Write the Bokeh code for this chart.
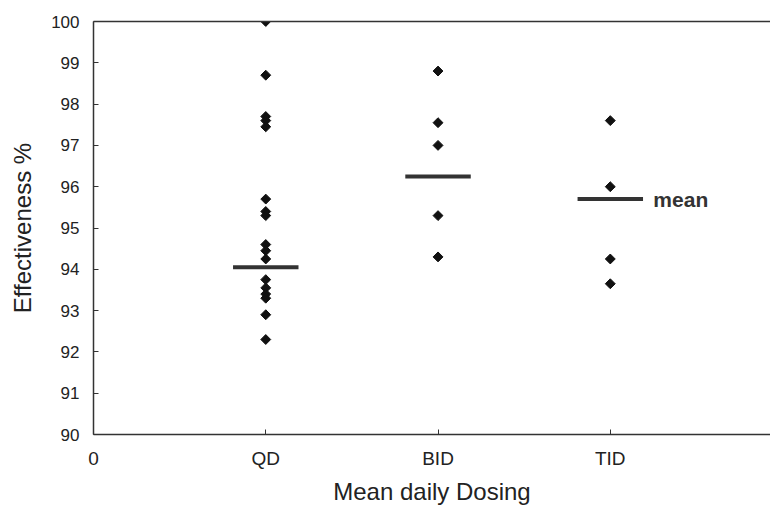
import math
from bokeh.plotting import figure
from bokeh.models import FixedTicker, Range1d, LinearAxis, Label, ColumnDataSource
from bokeh.embed import file_html
from bokeh.resources import INLINE

# ---- data ----
categories = ["QD", "BID", "TID"]
cat_pos = [1, 2, 3]
qd_values = [100.0, 98.7, 97.7, 97.6, 97.45, 95.7, 95.4, 95.3, 94.6, 94.45, 94.25,
             93.75, 93.55, 93.4, 93.3, 92.9, 92.3]
bid_values = [98.8, 97.55, 97.0, 95.3, 94.3]
tid_values = [97.6, 96.0, 94.25, 93.65]
means = [94.05, 96.25, 95.7]
y_ticks = [90, 91, 92, 93, 94, 95, 96, 97, 98, 99, 100]

FONT = "Liberation Sans"
INK = "#222222"
LINE = "#333333"

xs, ys = [], []
for pos, vals in zip(cat_pos, [qd_values, bid_values, tid_values]):
    xs += [pos] * len(vals)
    ys += vals
pts = ColumnDataSource(dict(x=xs, y=ys))

half = 0.19
mean_src = ColumnDataSource(dict(x0=[c - half for c in cat_pos],
                                 x1=[c + half for c in cat_pos],
                                 y=means))

p = figure(width=770, height=516, output_backend="svg", toolbar_location=None,
           x_range=Range1d(0, 3.93), y_range=Range1d(90, 100),
           min_border_left=93, min_border_right=0, min_border_top=21,
           min_border_bottom=82)
p.outline_line_color = None
p.xgrid.visible = False
p.ygrid.visible = False
p.background_fill_color = "white"
p.border_fill_color = "white"

p.segment(x0="x0", y0="y", x1="x1", y1="y", source=mean_src,
          line_width=4, line_color=LINE)
p.scatter("x", "y", source=pts, marker="square", angle=math.pi / 4, size=7,
          color="#111111")

# x axis
p.xaxis.ticker = FixedTicker(ticks=[0] + cat_pos)
p.xaxis.major_label_overrides = {0: "0", **{c: n for c, n in zip(cat_pos, categories)}}
p.xaxis.axis_label = "Mean daily Dosing"
# y axis
p.yaxis.ticker = FixedTicker(ticks=y_ticks)
p.yaxis.axis_label = "Effectiveness %"

for ax in (p.xaxis, p.yaxis):
    ax.major_tick_in = 5
    ax.major_tick_out = 0
    ax.minor_tick_in = 0
    ax.minor_tick_out = 0
    ax.axis_line_color = LINE
    ax.axis_line_width = 1.5
    ax.major_tick_line_color = LINE
    ax.major_label_text_font = FONT
    ax.major_label_text_color = INK
    ax.axis_label_text_font = FONT
    ax.axis_label_text_font_size = "24px"
    ax.axis_label_text_font_style = "normal"
    ax.axis_label_text_color = INK

p.xaxis.major_label_text_font_size = "19px"
p.yaxis.major_label_text_font_size = "17px"
p.xaxis.major_label_standoff = 13
p.xaxis.axis_label_standoff = 6
p.yaxis.major_label_standoff = 14
p.yaxis.axis_label_standoff = 12

top = LinearAxis(ticker=FixedTicker(ticks=[]), axis_line_color=LINE, axis_line_width=1.5,
                 major_label_text_font_size="0px", major_tick_in=0, major_tick_out=0,
                 minor_tick_in=0, minor_tick_out=0)
p.add_layout(top, "above")

p.add_layout(Label(x=3.25, y=means[2], text="mean", text_align="left",
                   text_baseline="middle", text_font=FONT, text_font_size="21px",
                   text_font_style="bold", text_color=LINE))

open("out.html", "w").write(file_html(p, INLINE))
